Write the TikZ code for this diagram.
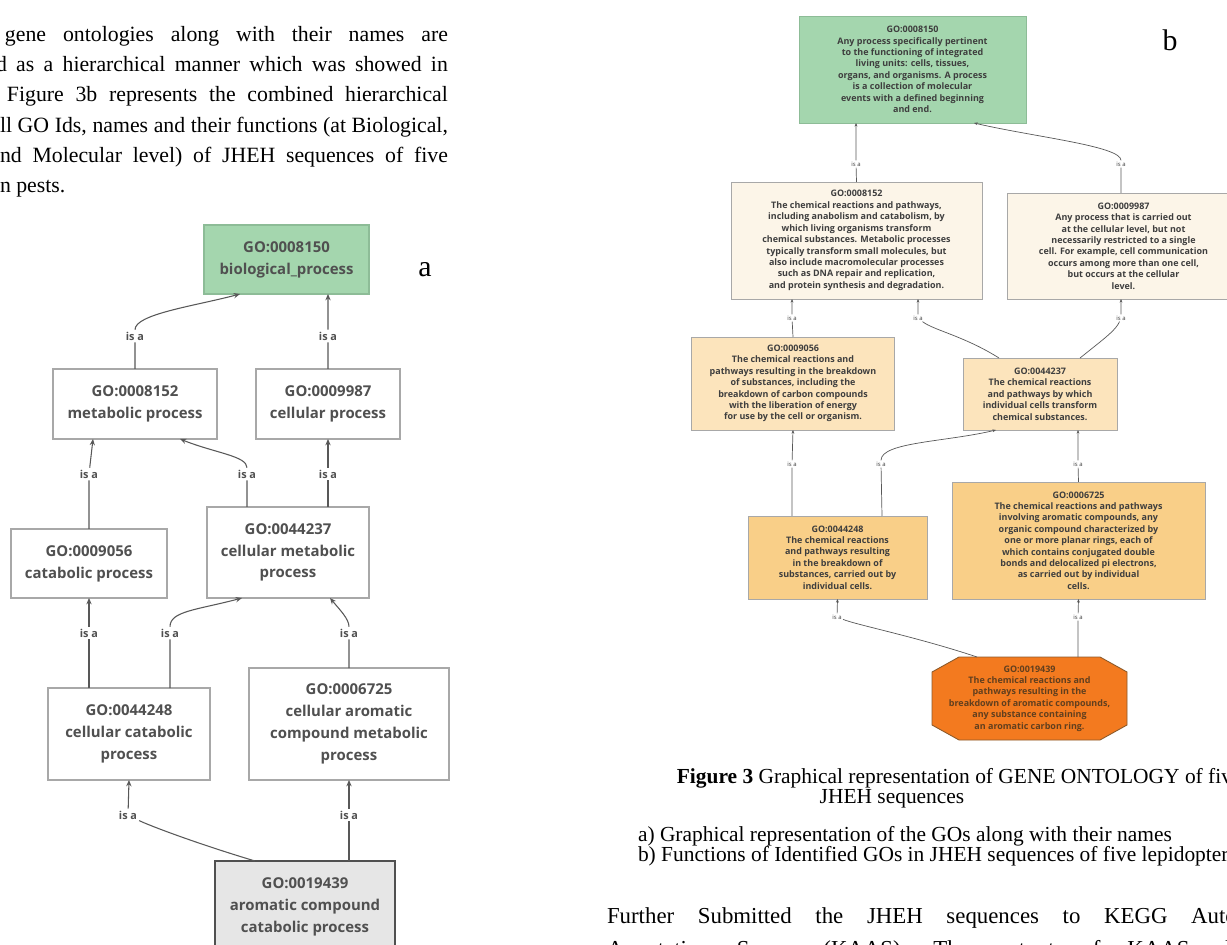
\documentclass[tikz,border=0pt]{standalone}
\usepackage{fontspec}
\setmainfont{Liberation Serif}
\newfontfamily\gofont{Open Sans}
\usetikzlibrary{arrows.meta,calc}

\definecolor{gogreen}{HTML}{A4D6AE}
\definecolor{gogreenline}{HTML}{8DBC97}
\definecolor{goline}{HTML}{A8A8A8}
\definecolor{gotext}{HTML}{505050}
\definecolor{gotextb}{HTML}{3E3E3E}
\definecolor{goquery}{HTML}{E6E6E6}
\definecolor{gocream}{HTML}{FCF5E8}
\definecolor{gopeach}{HTML}{FCE4BC}
\definecolor{golight}{HTML}{F9CF88}
\definecolor{goorange}{HTML}{F37A1F}
\definecolor{goorangeline}{HTML}{8B5A2B}
\definecolor{goedge}{HTML}{585858}

\newcommand{\px}{0.02cm}

\begin{document}
\begin{tikzpicture}[x=0.02cm,y=-0.02cm,
  every node/.style={inner sep=0pt,outer sep=0pt},
  bodytext/.style={anchor=base west,font=\fontsize{12.4}{14}\selectfont},
  captext/.style={font=\fontsize{12.2}{13}\selectfont},
  abox/.style 2 args={draw=goline,line width=0.7pt,fill=white,text=gotext,align=center,
    font=\gofont\bfseries\fontsize{8.5}{12.4}\selectfont,minimum width=#1*\px,minimum height=#2*\px},
  bbox/.style 2 args={draw=goline,line width=0.5pt,text=gotextb,align=center,
    font=\gofont\bfseries\fontsize{5.1}{6.5}\selectfont,minimum width=#1*\px,minimum height=#2*\px},
  aisa/.style={inner sep=1.2pt,text=gotext,font=\gofont\bfseries\fontsize{6.2}{7}\selectfont},
  bisa/.style={inner sep=0.8pt,text=gotextb,font=\gofont\fontsize{3.4}{4}\selectfont},
  aedge/.style={draw=goedge,line width=0.6pt,-{Stealth[length=3.6pt,width=3pt]}},
  bedge/.style={draw=goedge,line width=0.4pt,-{Stealth[length=2pt,width=1.6pt]}},
]
\useasboundingbox[fill=white] (0,0) rectangle (1227,945);

% paragraph, top left
\node[bodytext] (t1) at (5,42) {\makebox[8.86cm][s]{gene ontologies along with their names are}};
\node[bodytext] (t2) at (-4,72) {\makebox[9.04cm][s]{d as a hierarchical manner which was showed in}};
\node[bodytext] (t3) at (7,102) {\makebox[8.82cm][s]{Figure 3b represents the combined hierarchical}};
\node[bodytext] (t4) at (0,133) {\makebox[8.96cm][s]{ll GO Ids, names and their functions (at Biological,}};
\node[bodytext] (t5) at (0,163) {\makebox[8.96cm][s]{nd Molecular level) of JHEH sequences of five}};
\node[bodytext] (t6) at (0,193) {n pests.};

% graph a
\node[abox={165}{69},fill=gogreen,draw=gogreenline] (a150) at (286.5,259.5) {GO:0008150\\biological\_process};
\node[abox={164}{70}] (a152) at (135,404) {GO:0008152\\metabolic process};
\node[abox={144}{70}] (a987) at (328,404) {GO:0009987\\cellular process};
\node[abox={156}{69}] (a056) at (89,563.5) {GO:0009056\\catabolic process};
\node[abox={162}{91}] (a237) at (288,552.5) {GO:0044237\\cellular metabolic\\process};
\node[abox={162}{92}] (a248) at (129,734) {GO:0044248\\cellular catabolic\\process};
\node[abox={200}{112}] (a725) at (349,724) {GO:0006725\\cellular aromatic\\compound metabolic\\process};
\node[abox={180}{92},fill=goquery,draw=gotext,line width=1.1pt] (a439) at (305,907) {GO:0019439\\aromatic compound\\catabolic process};
\node[anchor=base,font=\fontsize{17}{17}\selectfont] (tagA) at (425,277) {a};

\node[aisa] (ia1) at (135,336) {is a};
\node[aisa] (ia2) at (328,336) {is a};
\node[aisa] (ia3) at (89,474) {is a};
\node[aisa] (ia4) at (247,474) {is a};
\node[aisa] (ia5) at (328,474) {is a};
\node[aisa] (ia6) at (89,633) {is a};
\node[aisa] (ia7) at (170,633) {is a};
\node[aisa] (ia8) at (349,633) {is a};
\node[aisa] (ia9) at (128,815) {is a};
\node[aisa] (ia10) at (349,815) {is a};

\draw[aedge] (a152.north) -- (ia1) .. controls +(0,-22) and +(-45,12) .. ($(a150.south)+(-46.5,0)$);
\draw[aedge] (a987.north) -- (ia2) -- ($(a150.south)+(41.5,0)$);
\draw[aedge] (a056.north) -- (ia3) -- ($(a152.south)+(-42,0)$);
\draw[aedge] ($(a237.north)+(-41,0)$) -- (ia4) .. controls +(0,-18) and +(35,14) .. ($(a152.south)+(45,0)$);
\draw[aedge] ($(a237.north)+(40,0)$) -- (ia5) -- (a987.south);
\draw[aedge] ($(a248.north)+(-40,0)$) -- (ia6) -- (a056.south);
\draw[aedge] ($(a248.north)+(41,0)$) -- (ia7) .. controls +(0,-22) and +(-45,12) .. ($(a237.south)+(-46,0)$);
\draw[aedge] (a725.north) -- (ia8) .. controls +(0,-14) and +(10,12) .. ($(a237.south)+(42,0)$);
\draw[aedge] ($(a439.north)+(-50,0)$) .. controls +(-60,-18) and +(20,10) .. (ia9) -- (a248.south);
\draw[aedge] ($(a439.north)+(44,0)$) -- (ia10) -- (a725.south);

% graph b
\node[bbox={227}{107},fill=gogreen,draw=gogreenline] (b150) at (912.5,69.5) {GO:0008150\\Any process specifically pertinent\\to the functioning of integrated\\living units: cells, tissues,\\organs, and organisms. A process\\is a collection of molecular\\events with a defined beginning\\and end.};
\node[bbox={251}{117},fill=gocream] (b152) at (856.5,240.5) {GO:0008152\\The chemical reactions and pathways,\\including anabolism and catabolism, by\\which living organisms transform\\chemical substances. Metabolic processes\\typically transform small molecules, but\\also include macromolecular processes\\such as DNA repair and replication,\\and protein synthesis and degradation.};
\node[bbox={233}{106},fill=gocream] (b987) at (1123.5,246) {GO:0009987\\Any process that is carried out\\at the cellular level, but not\\necessarily restricted to a single\\cell. For example, cell communication\\occurs among more than one cell,\\but occurs at the cellular\\level.};
\node[bbox={203}{93},fill=gopeach] (b056) at (793,383.5) {GO:0009056\\The chemical reactions and\\pathways resulting in the breakdown\\of substances, including the\\breakdown of carbon compounds\\with the liberation of energy\\for use by the cell or organism.};
\node[bbox={154}{72},fill=gopeach] (b237) at (1040,394) {GO:0044237\\The chemical reactions\\and pathways by which\\individual cells transform\\chemical substances.};
\node[bbox={179}{83},fill=golight] (b248) at (837.5,557.5) {GO:0044248\\The chemical reactions\\and pathways resulting\\in the breakdown of\\substances, carried out by\\individual cells.};
\node[bbox={253}{117},fill=golight] (b725) at (1078.5,540.5) {GO:0006725\\The chemical reactions and pathways\\involving aromatic compounds, any\\organic compound characterized by\\one or more planar rings, each of\\which contains conjugated double\\bonds and delocalized pi electrons,\\as carried out by individual\\cells.};
\draw[fill=goorange,draw=goorangeline,line width=0.5pt] (932,672) -- (959,657) -- (1100,657) -- (1127,672) -- (1127,725) -- (1100,740) -- (959,740) -- (932,725) -- cycle;
\node[bbox={195}{83},draw=none,text=goorangeline!70!black] (b439) at (1029.5,698.5) {GO:0019439\\The chemical reactions and\\pathways resulting in the\\breakdown of aromatic compounds,\\any substance containing\\an aromatic carbon ring.};
\node[anchor=base,font=\fontsize{17}{17}\selectfont] (tagB) at (1170,51) {b};

\node[bisa] (ib1) at (856,164) {is a};
\node[bisa] (ib2) at (1121,164) {is a};
\node[bisa] (ib3) at (792,318) {is a};
\node[bisa] (ib4) at (918,318) {is a};
\node[bisa] (ib5) at (1121,318) {is a};
\node[bisa] (ib6) at (792,464) {is a};
\node[bisa] (ib7) at (881,464) {is a};
\node[bisa] (ib8) at (1078,464) {is a};
\node[bisa] (ib9) at (837,617) {is a};
\node[bisa] (ib10) at (1078,617) {is a};

\draw[bedge] (b152.north) -- (ib1) -- ($(b150.south)+(-56.5,0)$);
\draw[bedge] ($(b987.north)+(-2.5,0)$) -- (ib2) .. controls +(0,-18) and +(60,14) .. ($(b150.south)+(61.5,0)$);
\draw[bedge] (b056.north) -- (ib3) -- ($(b152.south)+(-64.5,0)$);
\draw[bedge] ($(b237.north)+(-41,0)$) .. controls +(-35,-22) and +(15,12) .. (ib4) -- ($(b152.south)+(61.5,0)$);
\draw[bedge] ($(b237.north)+(40,0)$) .. controls +(25,-20) and +(-5,12) .. (ib5) -- ($(b987.south)+(-2.5,0)$);
\draw[bedge] ($(b248.north)+(-45.5,0)$) -- (ib6) -- (b056.south);
\draw[bedge] ($(b248.north)+(44.5,0)$) -- (ib7) .. controls +(0,-22) and +(-50,12) .. ($(b237.south)+(-44,0)$);
\draw[bedge] (b725.north) -- (ib8) -- ($(b237.south)+(38,0)$);
\draw[bedge] ($(b439.north)+(-52.5,0)$) .. controls +(-60,-20) and +(20,8) .. (ib9) -- (b248.south);
\draw[bedge] ($(b439.north)+(48.5,0)$) -- (ib10) -- (b725.south);

% caption and paragraph, bottom right
\node[captext,anchor=base east] (cap1) at (1232,783) {\textbf{Figure 3} Graphical representation of GENE ONTOLOGY of fiv};
\node[captext,anchor=base] (cap2) at (892,803) {JHEH sequences};
\node[captext,anchor=base west] (cap3) at (638,841) {a) Graphical representation of the GOs along with their names};
\node[captext,anchor=base west] (cap4) at (638,861) {b) Functions of Identified GOs in JHEH sequences of five lepidopter};
\node[bodytext,font=\fontsize{13}{15}\selectfont] (p1) at (607,923) {\makebox[12.6cm][s]{Further Submitted the JHEH sequences to KEGG Auto}};
\node[bodytext,font=\fontsize{13}{15}\selectfont] (p2) at (607,956) {\makebox[12.6cm][s]{Annotation Server (KAAS). The output of KAAS sh}};
\end{tikzpicture}
\end{document}
